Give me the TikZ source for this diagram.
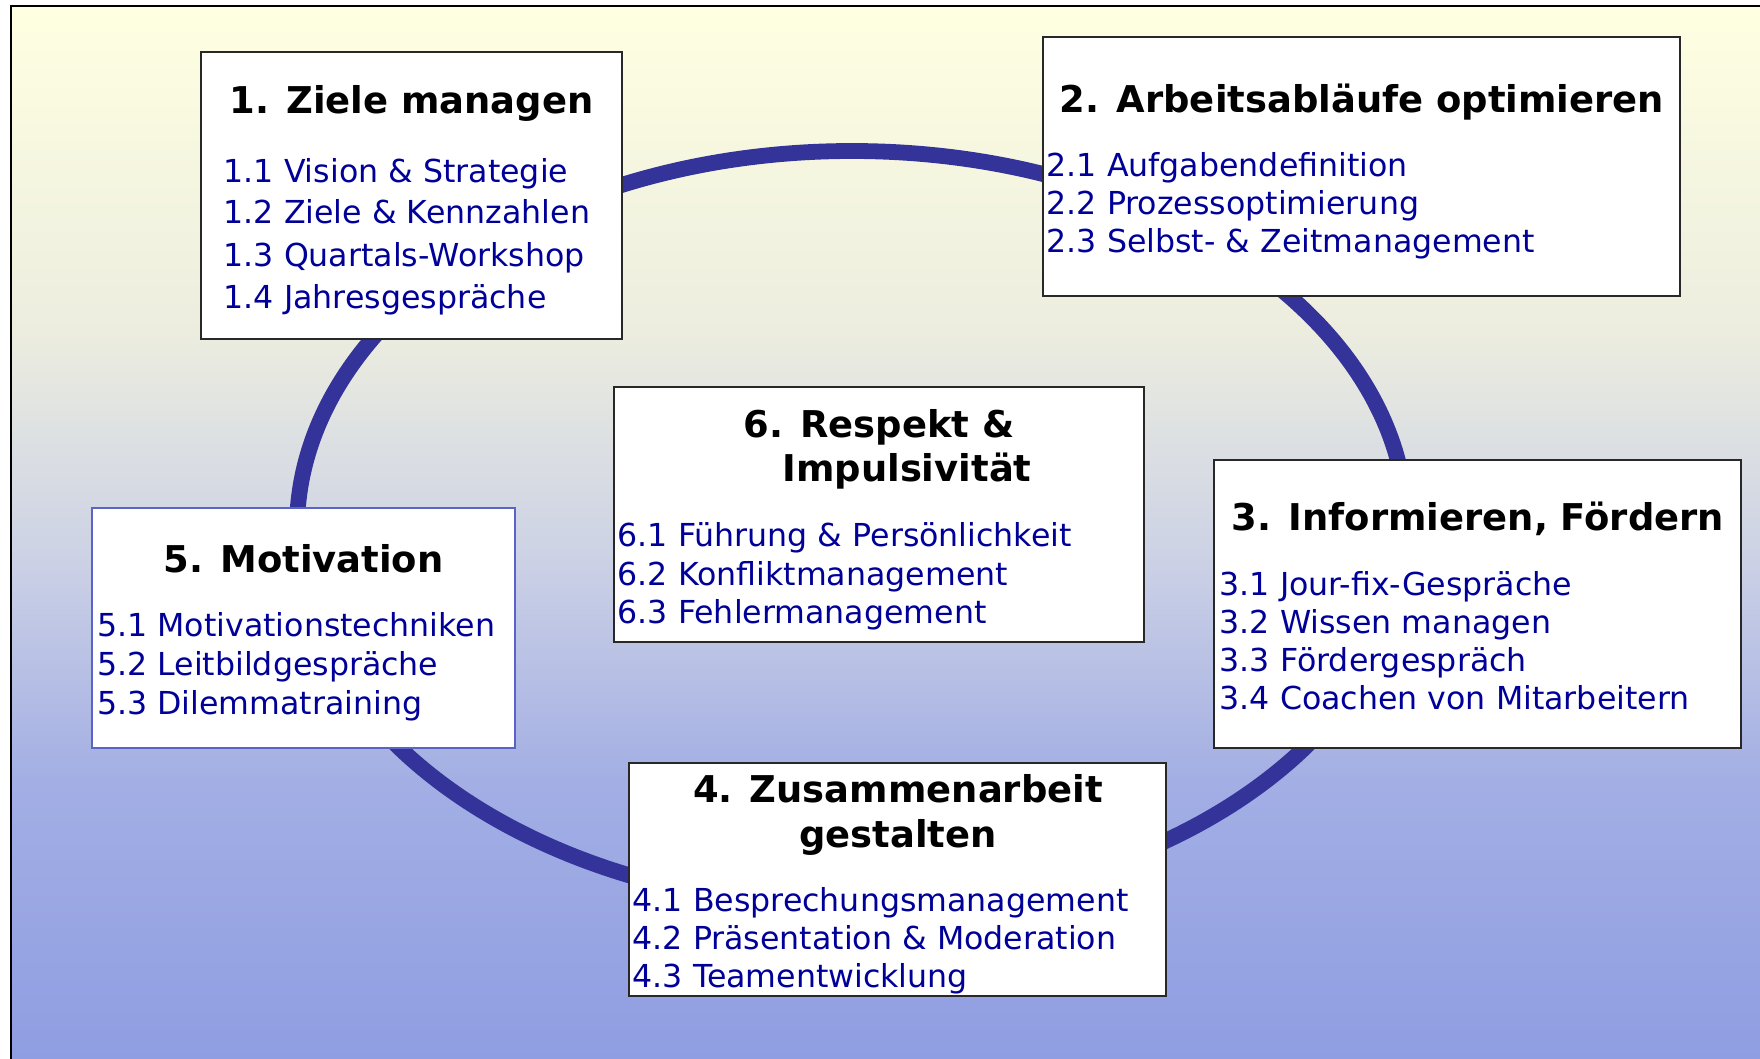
\documentclass[tikz,border=0pt]{standalone}
\usepackage{fontspec}
\setmainfont{DejaVu Sans}
\usepackage{tikz}

\definecolor{ringblue}{RGB}{51,51,153}
\definecolor{itemblue}{RGB}{0,0,153}
\definecolor{boxline}{RGB}{40,40,40}
\definecolor{motivline}{RGB}{90,100,200}
\definecolor{bgc0}{RGB}{141,156,226}
\definecolor{bgc1}{RGB}{162,174,228}
\definecolor{bgc2}{RGB}{206,211,229}
\definecolor{bgc3}{RGB}{236,237,223}
\definecolor{bgc4}{RGB}{255,255,225}

\pgfdeclareverticalshading{bgfade}{100bp}{%
  color(0bp)=(bgc0); color(25bp)=(bgc0); color(39bp)=(bgc1);
  color(50bp)=(bgc2); color(60bp)=(bgc3); color(75bp)=(bgc4);
  color(100bp)=(bgc4)}

\tikzset{
  ring/.style={draw=ringblue, line width=4.5pt},
  box/.style={draw=boxline, line width=0.5pt, fill=white, inner sep=0pt},
  title/.style={font=\bfseries\fontsize{10.5}{12}\selectfont, anchor=base, inner sep=0pt},
  item/.style={font=\fontsize{9}{11}\selectfont, text=itemblue, anchor=base west, inner sep=0pt}
}

\begin{document}
\begin{tikzpicture}

\clip (0,0) rectangle (17.6,10.58);

% Hintergrund mit Rahmen
\shade[shading=bgfade, draw=black, line width=0.6pt] (0.11,-0.3) rectangle (17.9,10.52);

% Kreislauf
\draw[ring] (8.52,5.29) ellipse [x radius=5.55, y radius=3.78];

% Kaesten
\node[box, minimum width=4.21cm, minimum height=2.87cm] (b1) at (4.115,8.625) {};
\node[box, minimum width=6.37cm, minimum height=2.59cm] (b2) at (13.615,8.915) {};
\node[box, minimum width=5.27cm, minimum height=2.88cm] (b3) at (14.775,4.54) {};
\node[box, minimum width=5.37cm, minimum height=2.33cm] (b4) at (8.975,1.785) {};
\node[box, draw=motivline, minimum width=4.23cm, minimum height=2.40cm] (b5) at (3.035,4.30) {};
\node[box, minimum width=5.30cm, minimum height=2.55cm] (b6) at (8.79,5.435) {};

% Ueberschriften
\node[title] (t1) at (4.115,9.445) {1. Ziele managen};
\node[title] (t2) at (13.62,9.455) {2. Arbeitsabläufe optimieren};
\node[title] (t3) at (14.78,5.275) {3. Informieren, Fördern};
\node[title] (t4a) at (8.98,2.555) {4. Zusammenarbeit};
\node[title] (t4b) at (8.98,2.105) {gestalten};
\node[title] (t5) at (3.035,4.855) {5. Motivation};
\node[title] (t6a) at (8.79,6.205) {6. Respekt \&};
\node[title] (t6b) at (9.07,5.765) {Impulsivität};

% Unterpunkte
\foreach \y/\txt [count=\i] in {
    8.755/{1.1 Vision \& Strategie},
    8.345/{1.2 Ziele \& Kennzahlen},
    7.915/{1.3 Quartals-Workshop},
    7.495/{1.4 Jahresgespräche}
}{
    \node[item] (i1-\i) at (2.23,\y) {\txt};
}

\foreach \y/\txt [count=\i] in {
    8.815/{2.1 Aufgabendefinition},
    8.435/{2.2 Prozessoptimierung},
    8.055/{2.3 Selbst- \& Zeitmanagement}
}{
    \node[item] (i2-\i) at (10.46,\y) {\txt};
}

\foreach \y/\txt [count=\i] in {
    4.625/{3.1 Jour-fix-Gespräche},
    4.245/{3.2 Wissen managen},
    3.865/{3.3 Fördergespräch},
    3.485/{3.4 Coachen von Mitarbeitern}
}{
    \node[item] (i3-\i) at (12.19,\y) {\txt};
}

\foreach \y/\txt [count=\i] in {
    1.465/{4.1 Besprechungsmanagement},
    1.085/{4.2 Präsentation \& Moderation},
    0.705/{4.3 Teamentwicklung}
}{
    \node[item] (i4-\i) at (6.32,\y) {\txt};
}

\foreach \y/\txt [count=\i] in {
    4.215/{5.1 Motivationstechniken},
    3.825/{5.2 Leitbildgespräche},
    3.435/{5.3 Dilemmatraining}
}{
    \node[item] (i5-\i) at (0.965,\y) {\txt};
}

\foreach \y/\txt [count=\i] in {
    5.115/{6.1 Führung \& Persönlichkeit},
    4.725/{6.2 Konfliktmanagement},
    4.345/{6.3 Fehlermanagement}
}{
    \node[item] (i6-\i) at (6.17,\y) {\txt};
}

\end{tikzpicture}
\end{document}
